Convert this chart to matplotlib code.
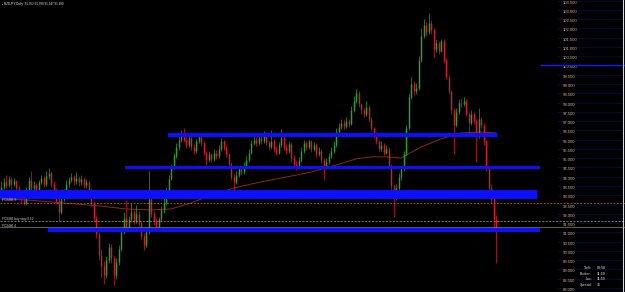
import numpy as np
import matplotlib
matplotlib.use("Agg")
import matplotlib.pyplot as plt
from matplotlib.patches import Rectangle

# ---------------- data ----------------
first_open = 93.30
closes = [
    93.45, 93.70, 93.55, 93.90, 93.60, 93.75, 93.40, 93.20, 92.75, 92.60,
    93.30, 93.85, 93.40, 93.55, 93.20, 93.70, 93.95, 93.60, 94.05, 94.20,
    93.60, 93.30, 92.70, 92.10, 92.80, 93.20, 93.60, 93.85, 94.00, 93.75,
    93.95, 93.70, 93.90, 93.55, 93.70, 93.30, 92.60, 91.80, 90.90, 89.80,
    89.20, 88.70, 89.50, 90.20, 89.60, 88.70, 89.40, 90.10, 91.00, 91.80,
    91.20, 91.70, 92.10, 91.60, 92.00, 91.50, 90.80, 90.30, 91.00, 92.80,
    92.00, 91.60, 91.30, 91.70, 92.20, 92.60, 93.20, 93.90, 94.50, 95.10,
    95.60, 96.00, 96.20, 96.00, 95.70, 96.10, 95.60, 95.40, 95.90, 96.15,
    95.80, 95.30, 94.90, 95.20, 94.95, 95.30, 95.10, 95.50, 95.90, 95.60,
    95.20, 94.70, 94.00, 93.70, 94.10, 94.40, 94.25, 94.60, 94.90, 95.30,
    95.80, 96.00, 95.80, 96.10, 95.90, 96.20, 95.85, 95.60, 95.95, 95.50,
    95.30, 95.70, 96.10, 95.60, 95.40, 95.75, 95.00, 94.70, 94.50, 94.90,
    95.40, 95.80, 95.60, 95.90, 95.50, 95.70, 95.20, 95.40, 94.90, 94.50,
    94.80, 95.10, 95.40, 95.70, 96.40, 96.70, 96.90, 96.75, 97.00, 96.85,
    97.60, 98.10, 98.50, 97.90, 97.60, 97.40, 97.75, 97.10, 96.60, 96.30,
    95.90, 95.50, 95.70, 95.30, 95.50, 94.60, 93.50, 92.90, 93.40, 94.00,
    94.40, 95.20, 96.60, 98.30, 99.00, 98.60, 98.80, 100.30, 101.60, 102.20,
    101.80, 102.30, 101.90, 100.90, 101.20, 100.80, 101.30, 100.30, 99.40, 98.60,
    97.60, 96.80, 97.50, 98.00, 97.90, 98.10, 97.40, 96.90, 97.40, 97.00,
    96.20, 97.10, 96.80, 95.90, 94.50, 93.40, 92.80, 91.70, 91.28,
]
highs = [
    93.75, 93.95, 94.10, 94.05, 94.00, 93.95, 93.85, 93.55, 93.30, 92.90,
    93.45, 94.00, 94.30, 93.75, 93.65, 93.85, 94.10, 94.05, 94.30, 94.45,
    94.30, 93.75, 93.40, 92.85, 92.95, 93.35, 93.80, 94.00, 94.20, 94.10,
    94.25, 94.05, 94.10, 94.00, 93.90, 93.80, 93.40, 92.70, 91.95, 91.00,
    90.10, 89.45, 89.70, 90.45, 90.40, 89.75, 89.60, 90.30, 91.20, 92.10,
    92.75, 91.90, 92.60, 92.20, 92.50, 92.15, 91.60, 90.95, 91.20, 94.30,
    93.00, 92.15, 91.75, 91.85, 92.40, 92.85, 93.40, 94.10, 94.70, 95.30,
    95.80, 96.20, 96.50, 96.60, 96.15, 96.30, 96.20, 95.75, 96.05, 96.35,
    96.25, 95.90, 95.40, 95.40, 95.30, 95.50, 95.45, 95.70, 96.10, 96.00,
    95.70, 95.30, 94.80, 94.15, 94.30, 94.60, 94.55, 94.80, 95.10, 95.50,
    96.00, 96.25, 96.15, 96.30, 96.25, 96.45, 96.30, 95.95, 96.50, 96.05,
    95.65, 95.85, 96.55, 96.20, 95.75, 95.90, 95.85, 95.15, 94.85, 95.05,
    95.60, 96.00, 95.95, 96.05, 96.00, 95.85, 95.80, 95.60, 95.50, 95.00,
    95.00, 95.30, 95.60, 95.90, 96.60, 96.90, 97.10, 97.05, 97.20, 97.10,
    97.80, 98.35, 98.75, 98.60, 98.00, 97.70, 98.10, 97.85, 97.20, 96.70,
    96.40, 96.00, 95.90, 95.80, 95.70, 95.60, 94.70, 93.60, 93.60, 94.20,
    94.60, 95.40, 96.80, 98.50, 99.40, 99.15, 99.05, 100.50, 102.00, 102.50,
    102.35, 102.85, 102.45, 102.00, 101.40, 101.30, 101.40, 101.40, 100.40, 99.50,
    98.70, 97.70, 97.70, 98.20, 98.25, 98.30, 98.20, 97.50, 97.60, 97.50,
    97.10, 97.70, 97.20, 96.90, 96.00, 94.60, 93.60, 92.90, 91.95,
]
lows = [
    93.10, 93.35, 93.40, 93.45, 93.35, 93.50, 93.25, 93.05, 92.60, 92.45,
    92.50, 93.20, 93.25, 93.20, 93.05, 93.10, 93.60, 93.45, 93.50, 93.90,
    93.45, 93.10, 92.55, 91.60, 92.00, 92.70, 93.10, 93.45, 93.70, 93.55,
    93.60, 93.50, 93.55, 93.40, 93.40, 93.15, 92.40, 91.60, 90.70, 89.50,
    88.60, 88.20, 88.55, 89.35, 89.35, 88.15, 88.50, 89.25, 90.00, 90.90,
    91.05, 91.05, 91.55, 91.45, 91.50, 91.35, 90.65, 90.05, 90.20, 90.90,
    91.85, 91.40, 91.05, 91.20, 91.60, 92.05, 92.50, 93.10, 93.80, 94.40,
    95.00, 95.45, 95.85, 95.85, 95.55, 95.60, 95.45, 95.20, 95.30, 95.80,
    95.65, 95.15, 94.65, 94.80, 94.80, 94.85, 94.95, 95.00, 95.40, 95.45,
    95.05, 94.55, 93.85, 93.22, 93.60, 94.00, 94.10, 94.15, 94.50, 94.80,
    95.20, 95.70, 95.65, 95.70, 95.75, 95.80, 95.70, 95.45, 95.50, 95.35,
    95.15, 95.20, 95.60, 95.45, 95.25, 95.30, 94.80, 94.55, 94.35, 94.40,
    94.80, 95.30, 95.45, 95.50, 95.35, 95.40, 95.05, 95.10, 94.75, 93.85,
    94.40, 94.70, 95.00, 95.30, 95.60, 96.30, 96.55, 96.55, 96.65, 96.70,
    96.80, 97.50, 98.00, 97.75, 97.40, 97.20, 97.30, 96.95, 96.45, 96.10,
    95.75, 95.35, 95.40, 95.15, 95.20, 94.45, 93.30, 91.85, 92.75, 93.30,
    93.85, 94.30, 95.10, 96.50, 98.20, 98.40, 98.45, 98.70, 100.20, 101.50,
    101.60, 101.70, 101.70, 100.45, 100.75, 100.60, 100.70, 100.15, 99.25, 98.45,
    97.40, 95.20, 96.70, 97.40, 97.75, 97.80, 97.25, 96.20, 96.80, 96.85,
    94.80, 96.10, 96.60, 95.70, 94.30, 93.20, 92.60, 91.00, 89.35,
]

# moving average, sampled at bar indices
ma_bar = [0, 10, 20, 30, 40, 50, 60, 68, 76, 84, 93, 104, 114, 124, 134,
          142, 148, 154, 160, 168, 176, 184, 192, 198]
ma_val = [92.80, 92.75, 92.64, 92.53, 92.42, 92.26, 92.21, 92.26, 92.58, 93.01,
          93.39, 93.72, 93.98, 94.25, 94.63, 94.96, 95.07, 95.07, 95.01, 95.60,
          96.04, 96.36, 96.41, 96.36]

# supply/demand zones (price bands) and their bar extents
zone_lo = [96.14, 94.42, 92.80, 91.03]
zone_hi = [96.36, 94.58, 93.28, 91.25]
zone_from = [66.8, 49.6, -0.4, 18.8]
zone_to = [198.4, 215.6, 214.4, 215.6]

# horizontal lines
lvl_orange = 92.58
lvl_buystop = 91.59
lvl_olive = 91.30
lvl_blue = 100.0

price_ticks = [88.0, 88.5, 89.0, 89.5, 90.0, 90.5, 91.0, 91.5, 92.0, 92.5,
               93.0, 93.5, 94.0, 94.5, 95.0, 95.5, 96.0, 96.5, 97.0, 97.5,
               98.0, 98.5, 99.0, 99.5, 100.0, 100.5, 101.0, 101.5, 102.0,
               102.5, 103.0, 103.5]

header = "\u25aa NZDJPY,Daily  91.352 91.390 91.247 91.280"
line_labels = ["FC9486 S", "FC9486 buy stop 9.52", "FC9486 4"]
info_keys = ["Tleft:", "Broker:", "Loc:", "Spread:"]
info_vals = ["09:58", "11:59", "11:59", "16"]

# ---------------- figure ----------------
W, H = 625, 292
fig = plt.figure(figsize=(W / 100, H / 100), dpi=100, facecolor="black")
ax = fig.add_axes([0, 0, 1, 1])
ax.set_facecolor("black")

BAR_PX, X0_PX = 2.5, 1.0
def px2bar(px):
    return (px - X0_PX) / BAR_PX

PX_PER_UNIT = 18.55
TOP = 103.5 + 0.5 / PX_PER_UNIT
ax.set_xlim(px2bar(0), px2bar(W))
ax.set_ylim(TOP - H / PX_PER_UNIT, TOP)
for s in ax.spines.values():
    s.set_visible(False)
ax.set_xticks([])

c = np.array(closes)
h = np.array(highs)
l = np.array(lows)
o = np.r_[first_open, c[:-1]]
idx = np.arange(len(c))
bull = c >= o
cols = np.where(bull, "#2ea02e", "#d01e2c")

# moving average
ax.plot(ma_bar, ma_val, color="#8a2a1c", lw=0.7, zorder=1)

# candles
ax.vlines(idx, l, h, colors=cols, lw=0.5, zorder=2)
ax.vlines(idx, np.minimum(o, c), np.maximum(o, c), colors=cols, lw=1.05, zorder=2)

# zones
for lo, hi, a, b in zip(zone_lo, zone_hi, zone_from, zone_to):
    ax.add_patch(Rectangle((a, lo), b - a, hi - lo, facecolor="#0c10ff",
                           edgecolor="none", zorder=3))

# level lines
ax.axhline(lvl_orange, color="#c8602c", lw=0.6, ls=(0, (2, 2)), zorder=3)
ax.axhline(lvl_buystop, color="#a8a8a8", lw=0.5, ls=(0, (3, 2)), zorder=3)
ax.axhline(lvl_olive, color="#8c8c52", lw=0.5, zorder=3)
ax.hlines(lvl_blue, px2bar(540), px2bar(W), color="#1a1aff", lw=1.0, zorder=3)

# price scale grid marks and border
ax.hlines(price_ticks, px2bar(557), px2bar(622), colors="#0e0e44", lw=0.5, zorder=1)
ax.axvline(px2bar(623), color="#d8d8d8", lw=0.8, zorder=4)

# price labels
ax.yaxis.tick_right()
ax.set_yticks(price_ticks)
ax.set_yticklabels([f"{t:.3f}" for t in price_ticks])
ax.tick_params(axis="y", length=0, pad=-(W - 563) * 0.72,
               labelsize=3.0, labelcolor="#d2b27e")
for lab in ax.get_yticklabels():
    lab.set_fontfamily("Liberation Sans")
    lab.set_va("top")

# texts
fig.text(2 / W, 1 - 3.5 / H, header, fontsize=2.2, color="#e8e8e8",
         va="center", ha="left", family="Liberation Sans")
for lab, p in zip(line_labels, [92.75, 91.72, 91.34]):
    ax.text(px2bar(2), p, lab, fontsize=2.3, color="#cfcfcf", va="center",
            ha="left", family="Liberation Sans", zorder=5)
for k, v, yp in zip(info_keys, info_vals, [268, 274, 279.5, 285]):
    fig.text(592 / W, 1 - yp / H, k, fontsize=2.6, color="#d8d8d8",
             ha="right", va="center", family="Liberation Sans")
    fig.text(597 / W, 1 - yp / H, v, fontsize=2.6, color="#e8e8e8",
             ha="left", va="center", family="Liberation Sans")

fig.savefig("out.png", dpi=100, facecolor="black")
